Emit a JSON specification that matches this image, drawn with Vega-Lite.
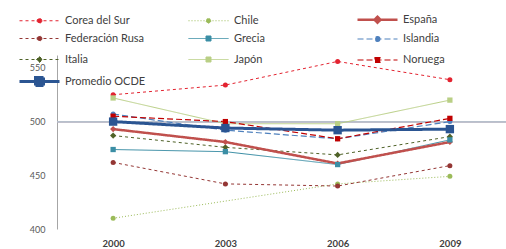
{
  "$schema": "https://vega.github.io/schema/vega-lite/v6.json",
  "width": 449,
  "height": 174,
  "autosize": {"type": "none"},
  "padding": {"left": 57, "top": 55, "right": 0, "bottom": 20},
  "background": "white",
  "config": {"view": {"stroke": null}, "font": "Lato"},
  "data": {
    "values": [
      {"pais": "Corea del Sur", "anio": "2000", "valor": 525},
      {"pais": "Corea del Sur", "anio": "2003", "valor": 534},
      {"pais": "Corea del Sur", "anio": "2006", "valor": 556},
      {"pais": "Corea del Sur", "anio": "2009", "valor": 539},
      {"pais": "Chile", "anio": "2000", "valor": 410},
      {"pais": "Chile", "anio": "2006", "valor": 442},
      {"pais": "Chile", "anio": "2009", "valor": 449},
      {"pais": "Federación Rusa", "anio": "2000", "valor": 462},
      {"pais": "Federación Rusa", "anio": "2003", "valor": 442},
      {"pais": "Federación Rusa", "anio": "2006", "valor": 440},
      {"pais": "Federación Rusa", "anio": "2009", "valor": 459},
      {"pais": "Grecia", "anio": "2000", "valor": 474},
      {"pais": "Grecia", "anio": "2003", "valor": 472},
      {"pais": "Grecia", "anio": "2006", "valor": 460},
      {"pais": "Grecia", "anio": "2009", "valor": 483},
      {"pais": "Islandia", "anio": "2000", "valor": 507},
      {"pais": "Islandia", "anio": "2003", "valor": 492},
      {"pais": "Islandia", "anio": "2006", "valor": 484},
      {"pais": "Islandia", "anio": "2009", "valor": 500},
      {"pais": "Italia", "anio": "2000", "valor": 487},
      {"pais": "Italia", "anio": "2003", "valor": 476},
      {"pais": "Italia", "anio": "2006", "valor": 469},
      {"pais": "Italia", "anio": "2009", "valor": 486},
      {"pais": "Japón", "anio": "2000", "valor": 522},
      {"pais": "Japón", "anio": "2003", "valor": 498},
      {"pais": "Japón", "anio": "2006", "valor": 498},
      {"pais": "Japón", "anio": "2009", "valor": 520},
      {"pais": "Noruega", "anio": "2000", "valor": 505},
      {"pais": "Noruega", "anio": "2003", "valor": 500},
      {"pais": "Noruega", "anio": "2006", "valor": 484},
      {"pais": "Noruega", "anio": "2009", "valor": 503},
      {"pais": "España", "anio": "2000", "valor": 493},
      {"pais": "España", "anio": "2003", "valor": 481},
      {"pais": "España", "anio": "2006", "valor": 461},
      {"pais": "España", "anio": "2009", "valor": 481},
      {"pais": "Promedio OCDE", "anio": "2000", "valor": 500},
      {"pais": "Promedio OCDE", "anio": "2003", "valor": 494},
      {"pais": "Promedio OCDE", "anio": "2006", "valor": 492},
      {"pais": "Promedio OCDE", "anio": "2009", "valor": 493}
    ]
  },
  "encoding": {
    "x": {
      "field": "anio", "type": "ordinal",
      "scale": {"type": "point", "padding": 0.5},
      "axis": {"title": null, "domain": false, "ticks": false, "labelAngle": 0, "labelFontWeight": "bold", "labelFontSize": 9.5, "labelColor": "#404040", "labelPadding": 9}
    },
    "y": {
      "field": "valor", "type": "quantitative",
      "scale": {"domain": [400, 562], "nice": false, "zero": false},
      "axis": {"title": null, "values": [400, 450, 500, 550], "grid": false, "ticks": false, "domainColor": "#a6a6a6", "labelColor": "#595959", "labelFontSize": 9, "labelPadding": 12}
    },
    "color": {
      "field": "pais", "type": "nominal",
      "scale": {
        "domain": ["Corea del Sur", "Chile", "España", "Federación Rusa", "Grecia", "Islandia", "Italia", "Japón", "Noruega", "Promedio OCDE"],
        "range": ["#e32330", "#9bbb59", "#c0504d", "#943634", "#3b8ea5", "#4f81bd", "#4f6228", "#b9cf85", "#c00000", "#2b5592"]
      },
      "legend": null
    }
  },
  "layer": [
    {
      "mark": {"type": "rule", "color": "#b7c0cc", "strokeWidth": 1},
      "encoding": {"y": {"datum": 500}, "x": null, "color": null}
    },
    {
      "mark": {"type": "line"},
      "encoding": {
        "color": {
          "field": "pais", "type": "nominal",
          "scale": {
            "domain": ["Corea del Sur", "Chile", "España", "Federación Rusa", "Grecia", "Islandia", "Italia", "Japón", "Noruega", "Promedio OCDE"],
            "range": ["#e32330", "#9bbb59", "#c0504d", "#943634", "#3b8ea5", "#4f81bd", "#4f6228", "#b9cf85", "#c00000", "#2b5592"]
          },
          "legend": {
            "title": null, "orient": "none", "legendX": -24, "legendY": -43,
            "direction": "horizontal",
            "columns": 3, "gridAlign": "all", "columnPadding": 37, "rowPadding": 0,
            "symbolType": "M-4,0H4M0.48,0A0.48,0.48,0,1,1,-0.48,0A0.48,0.48,0,1,1,0.48,0Z",
            "symbolSize": 100, "labelFont": "Lato", "labelFontSize": 11, "labelColor": "#404040", "labelOffset": 19, "labelLimit": 200,
            "encode": {
              "symbols": {
                "update": {
                  "fill": {"scale": "color", "field": "value"},
                  "stroke": {"scale": "color", "field": "value"},
                  "strokeDash": {"scale": "strokeDash", "field": "value"},
                  "strokeWidth": {"scale": "strokeWidth", "field": "value"},
                  "opacity": {"value": 1},
                  "size": {"value": 100},
                  "shape": {"signal": "(datum.value == 'Grecia' || datum.value == 'Japón' || datum.value == 'Noruega') ? 'M-4,0H4M-0.5,-0.5H0.5V0.5H-0.5Z' : datum.value == 'Promedio OCDE' ? 'M-4,0H4M-0.8,-0.8H0.8V0.8H-0.8Z' : (datum.value == 'España' || datum.value == 'Italia') ? 'M-4,0H4M0,-0.6L0.6,0L0,0.6L-0.6,0Z' : 'M-4,0H4M0.48,0A0.48,0.48,0,1,1,-0.48,0A0.48,0.48,0,1,1,0.48,0Z'"}
                }
              }
            }
          }
        },
        "strokeDash": {
          "field": "pais", "type": "nominal",
          "scale": {
            "domain": ["Corea del Sur", "Chile", "España", "Federación Rusa", "Grecia", "Islandia", "Italia", "Japón", "Noruega", "Promedio OCDE"],
            "range": [[3, 3], [1, 2], [1, 0], [3, 3], [1, 0], [6, 3], [3, 3], [1, 0], [6, 3], [1, 0]]
          }
        },
        "strokeWidth": {
          "field": "pais", "type": "nominal",
          "scale": {
            "type": "ordinal",
            "domain": ["Corea del Sur", "Chile", "España", "Federación Rusa", "Grecia", "Islandia", "Italia", "Japón", "Noruega", "Promedio OCDE"],
            "range": [1, 1, 2.5, 1, 1, 1.2, 1, 1, 1.2, 3]
          }
        }
      }
    },
    {
      "transform": [{"filter": {"field": "pais", "oneOf": ["Corea del Sur", "Chile", "Federación Rusa", "Islandia"]}}],
      "mark": {"type": "point", "filled": true, "opacity": 1, "shape": "circle", "size": 25}
    },
    {
      "transform": [{"filter": {"field": "pais", "oneOf": ["España", "Italia"]}}],
      "mark": {"type": "point", "filled": true, "opacity": 1, "shape": "diamond", "size": 38}
    },
    {
      "transform": [{"filter": {"field": "pais", "oneOf": ["Grecia", "Japón", "Noruega"]}}],
      "mark": {"type": "point", "filled": true, "opacity": 1, "shape": "square", "size": 28}
    },
    {
      "transform": [{"filter": {"field": "pais", "equal": "Promedio OCDE"}}],
      "mark": {"type": "point", "filled": true, "opacity": 1, "shape": "square", "size": 70}
    }
  ]
}
